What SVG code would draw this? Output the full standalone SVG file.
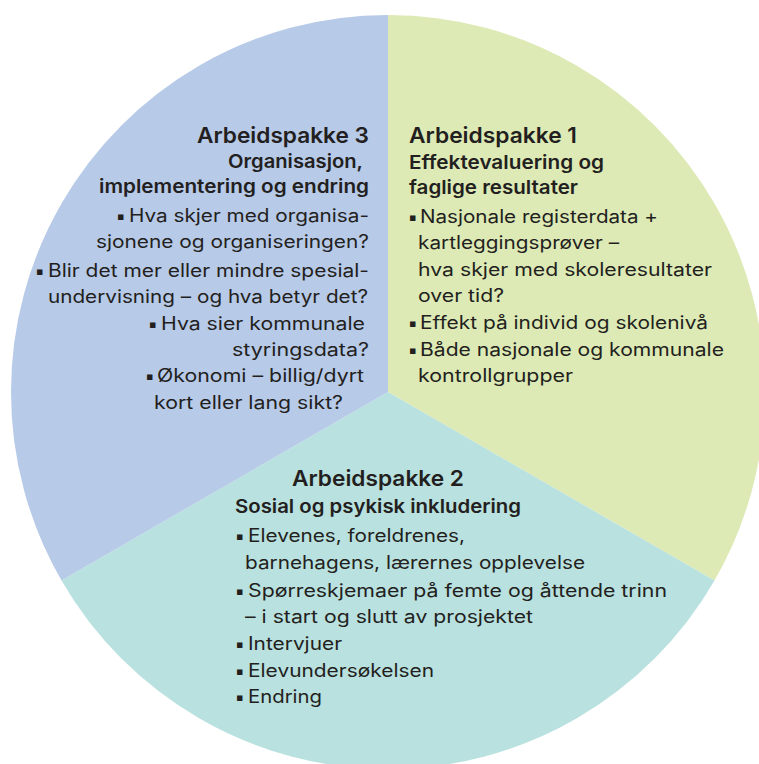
<svg xmlns="http://www.w3.org/2000/svg" width="759" height="764" viewBox="0 0 759 764">
<style>
text{font-family:Inter,"Liberation Sans",sans-serif;fill:#231f20;}
.h{font-size:22px;font-weight:600;}
.s{font-size:19px;font-weight:600;}
.b{font-size:18px;font-weight:400;}
.u{font-family:"DejaVu Sans",sans-serif;font-size:11px;}
</style>
<rect width="759" height="764" fill="#ffffff"/>
<g id="wp1">
<path d="M388 392 L388 15 A377 377 0 0 1 714.5 580.5 Z" fill="#ddeab5"/>
<text class="h" x="409" y="143" textLength="168" lengthAdjust="spacingAndGlyphs">Arbeidspakke 1</text>
<text class="s" x="409" y="169" textLength="195" lengthAdjust="spacingAndGlyphs">Effektevaluering og</text>
<text class="s" x="409" y="194" textLength="169" lengthAdjust="spacingAndGlyphs">faglige resultater</text>
<text class="u" x="409" y="221">▪</text>
<text class="b" x="420" y="223" textLength="238" lengthAdjust="spacingAndGlyphs">Nasjonale registerdata +</text>
<text class="b" x="418" y="249" textLength="201" lengthAdjust="spacingAndGlyphs">kartleggingsprøver –</text>
<text class="b" x="418" y="276" textLength="294" lengthAdjust="spacingAndGlyphs">hva skjer med skoleresultater</text>
<text class="b" x="418" y="302" textLength="86" lengthAdjust="spacingAndGlyphs">over tid?</text>
<text class="u" x="409" y="327">▪</text>
<text class="b" x="420" y="329" textLength="288" lengthAdjust="spacingAndGlyphs">Effekt på individ og skolenivå</text>
<text class="u" x="409" y="354">▪</text>
<text class="b" x="420" y="356" textLength="304" lengthAdjust="spacingAndGlyphs">Både nasjonale og kommunale</text>
<text class="b" x="418" y="382" textLength="155" lengthAdjust="spacingAndGlyphs">kontrollgrupper</text>
</g>
<g id="wp2">
<path d="M388 392 L714.5 580.5 A377 377 0 0 1 61.5 580.5 Z" fill="#b9e1df"/>
<text class="h" x="292" y="486" textLength="172" lengthAdjust="spacingAndGlyphs">Arbeidspakke 2</text>
<text class="s" x="235" y="513" textLength="286" lengthAdjust="spacingAndGlyphs">Sosial og psykisk inkludering</text>
<text class="u" x="236" y="540">▪</text>
<text class="b" x="248" y="542" textLength="217" lengthAdjust="spacingAndGlyphs">Elevenes, foreldrenes,</text>
<text class="b" x="245" y="569" textLength="340" lengthAdjust="spacingAndGlyphs">barnehagens, lærernes opplevelse</text>
<text class="u" x="236" y="595">▪</text>
<text class="b" x="248" y="597" textLength="419" lengthAdjust="spacingAndGlyphs">Spørreskjemaer på femte og åttende trinn</text>
<text class="b" x="245" y="623" textLength="288" lengthAdjust="spacingAndGlyphs">– i start og slutt av prosjektet</text>
<text class="u" x="236" y="648">▪</text>
<text class="b" x="248" y="650" textLength="94" lengthAdjust="spacingAndGlyphs">Intervjuer</text>
<text class="u" x="236" y="675">▪</text>
<text class="b" x="248" y="677" textLength="186" lengthAdjust="spacingAndGlyphs">Elevundersøkelsen</text>
<text class="u" x="236" y="701">▪</text>
<text class="b" x="248" y="703" textLength="74" lengthAdjust="spacingAndGlyphs">Endring</text>
</g>
<g id="wp3">
<path d="M388 392 L61.5 580.5 A377 377 0 0 1 388 15 Z" fill="#b7cae8"/>
<text class="h" x="197" y="143" textLength="172" lengthAdjust="spacingAndGlyphs">Arbeidspakke 3</text>
<text class="s" x="228" y="168" textLength="135" lengthAdjust="spacingAndGlyphs">Organisasjon,</text>
<text class="s" x="99" y="193" textLength="270" lengthAdjust="spacingAndGlyphs">implementering og endring</text>
<text class="u" x="117" y="220">▪</text>
<text class="b" x="129" y="222" textLength="240" lengthAdjust="spacingAndGlyphs">Hva skjer med organisa-</text>
<text class="b" x="96" y="248" textLength="273" lengthAdjust="spacingAndGlyphs">sjonene og organiseringen?</text>
<text class="u" x="36" y="275">▪</text>
<text class="b" x="48" y="277" textLength="321" lengthAdjust="spacingAndGlyphs">Blir det mer eller mindre spesial-</text>
<text class="b" x="48" y="303" textLength="320" lengthAdjust="spacingAndGlyphs">undervisning – og hva betyr det?</text>
<text class="u" x="149" y="328">▪</text>
<text class="b" x="161" y="330" textLength="204" lengthAdjust="spacingAndGlyphs">Hva sier kommunale</text>
<text class="b" x="232" y="356" textLength="137" lengthAdjust="spacingAndGlyphs">styringsdata?</text>
<text class="u" x="146" y="380">▪</text>
<text class="b" x="157" y="382" textLength="207" lengthAdjust="spacingAndGlyphs">Økonomi – billig/dyrt</text>
<text class="b" x="154" y="409" textLength="189" lengthAdjust="spacingAndGlyphs">kort eller lang sikt?</text>
</g>
<g id="connectors"></g>
</svg>
